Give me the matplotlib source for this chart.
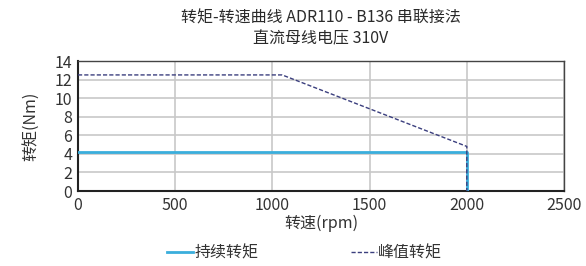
import matplotlib.pyplot as plt

plt.rcParams['font.family'] = ['Noto Sans CJK SC', 'DejaVu Sans']

# data
cont_speed = [0, 2000, 2000]
cont_torque = [4.15, 4.15, 0]
peak_speed = [0, 1050, 2000, 2000]
peak_torque = [12.5, 12.5, 4.8, 0]

xticks = [0, 500, 1000, 1500, 2000, 2500]
yticks = [0, 2, 4, 6, 8, 10, 12, 14]

fs = 11.5
fig = plt.figure(figsize=(5.86, 2.66), dpi=100)
ax = fig.add_axes([78 / 586, 1 - 191 / 266, 486 / 586, 130 / 266])

ax.plot(cont_speed, cont_torque, color='#3aaedc', lw=2, label='持续转矩', zorder=3)
ax.plot(peak_speed, peak_torque, color='#3b3f7e', lw=1, ls=(0, (3, 1.5)), label='峰值转矩', zorder=4)

ax.set_xlim(0, 2500)
ax.set_ylim(0, 14)
ax.set_xticks(xticks)
ax.set_yticks(yticks)
ax.grid(True, color='#c8c8c8', lw=1.2)
ax.set_axisbelow(True)
ax.tick_params(length=0, labelsize=fs, labelcolor='#333333', pad=4)

for s in ['left', 'bottom']:
    ax.spines[s].set_color('#222222')
    ax.spines[s].set_linewidth(1.5)
for s in ['top', 'right']:
    ax.spines[s].set_color('#444444')
    ax.spines[s].set_linewidth(1)

ax.set_xlabel('转速(rpm)', fontsize=fs, color='#333333', labelpad=1)
ax.set_ylabel('转矩(Nm)', fontsize=fs, color='#333333', labelpad=11)
ax.set_title('转矩-转速曲线 ADR110 - B136 串联接法\n直流母线电压 310V',
             fontsize=fs, color='#2a2a2a', pad=13, linespacing=1.3)

fig.legend(loc='center', bbox_to_anchor=(0.52, 13 / 266),
           ncol=2, frameon=False, fontsize=fs, handlelength=1.6,
           handletextpad=0.1, columnspacing=5.8, labelcolor='#333333')

fig.savefig('out.png', dpi=100)
